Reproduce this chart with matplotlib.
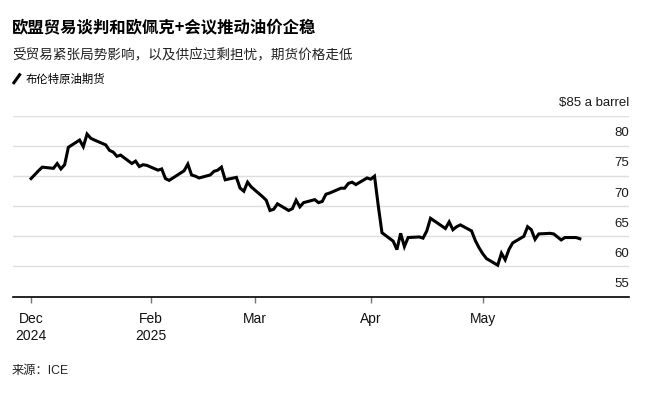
import matplotlib
matplotlib.use("Agg")
import matplotlib.pyplot as plt
from matplotlib.lines import Line2D
import pandas as pd

# Brent crude futures, daily close (USD/barrel)
dates = [
    "2024-12-31",
    "2025-01-02", "2025-01-03", "2025-01-06", "2025-01-07", "2025-01-08", "2025-01-09", "2025-01-10",
    "2025-01-13", "2025-01-14", "2025-01-15", "2025-01-16", "2025-01-17",
    "2025-01-20", "2025-01-21", "2025-01-22", "2025-01-23", "2025-01-24",
    "2025-01-27", "2025-01-28", "2025-01-29", "2025-01-30", "2025-01-31",
    "2025-02-03", "2025-02-04", "2025-02-05", "2025-02-06", "2025-02-07",
    "2025-02-10", "2025-02-11", "2025-02-12", "2025-02-13", "2025-02-14",
    "2025-02-17", "2025-02-18", "2025-02-19", "2025-02-20", "2025-02-21",
    "2025-02-24", "2025-02-25", "2025-02-26", "2025-02-27", "2025-02-28",
    "2025-03-03", "2025-03-04", "2025-03-05", "2025-03-06", "2025-03-07",
    "2025-03-10", "2025-03-11", "2025-03-12", "2025-03-13", "2025-03-14",
    "2025-03-17", "2025-03-18", "2025-03-19", "2025-03-20", "2025-03-21",
    "2025-03-24", "2025-03-25", "2025-03-26", "2025-03-27", "2025-03-28",
    "2025-03-31", "2025-04-01", "2025-04-02", "2025-04-03", "2025-04-04",
    "2025-04-07", "2025-04-08", "2025-04-09", "2025-04-10", "2025-04-11",
    "2025-04-14", "2025-04-15", "2025-04-16", "2025-04-17",
    "2025-04-21", "2025-04-22", "2025-04-23", "2025-04-24", "2025-04-25",
    "2025-04-28", "2025-04-29", "2025-04-30", "2025-05-01", "2025-05-02",
    "2025-05-05", "2025-05-06", "2025-05-07", "2025-05-08", "2025-05-09",
    "2025-05-12", "2025-05-13", "2025-05-14", "2025-05-15", "2025-05-16",
    "2025-05-19", "2025-05-20", "2025-05-21", "2025-05-22", "2025-05-23",
    "2025-05-26", "2025-05-27",
]
prices = [
    74.6,
    75.9, 76.5, 76.3, 77.1, 76.2, 76.9, 79.8,
    81.0, 79.9, 82.0, 81.3, 81.0,
    80.2, 79.3, 79.0, 78.3, 78.5,
    77.1, 77.5, 76.6, 76.9, 76.8,
    76.0, 76.2, 74.6, 74.3, 74.7,
    75.9, 77.0, 75.2, 75.0, 74.7,
    75.2, 75.8, 76.0, 76.5, 74.4,
    74.8, 73.0, 72.5, 74.0, 73.2,
    71.6, 71.0, 69.3, 69.5, 70.4,
    69.3, 69.6, 71.0, 69.9, 70.6,
    71.1, 70.6, 70.8, 72.0, 72.2,
    73.0, 73.0, 73.8, 74.0, 73.6,
    74.7, 74.5, 75.0, 70.1, 65.6,
    64.2, 62.8, 65.5, 63.3, 64.8,
    64.9, 64.7, 65.9, 68.0,
    66.3, 67.4, 66.1, 66.6, 66.9,
    65.9, 64.3, 63.1, 62.1, 61.3,
    60.2, 62.2, 61.1, 62.8, 63.9,
    65.0, 66.6, 66.1, 64.5, 65.4,
    65.5, 65.4, 64.9, 64.4, 64.8,
    64.8, 64.6,
]

y_ticks = [55, 60, 65, 70, 75, 80, 85]
y_labels = ["55", "60", "65", "70", "75", "80", "$85 a barrel"]
x_ticks = ["2024-12-31", "2025-02-01", "2025-03-01", "2025-04-01", "2025-05-01"]
x_labels = ["Dec\n2024", "Feb\n2025", "Mar", "Apr", "May"]

title = "欧盟贸易谈判和欧佩克+会议推动油价企稳"
subtitle = "受贸易紧张局势影响，以及供应过剩担忧，期货价格走低"
series_name = "布伦特原油期货"
source = "来源：ICE"

CJK = ["Noto Sans CJK SC", "DejaVu Sans"]
LATIN = ["Liberation Sans", "DejaVu Sans"]

W, H = 645, 393
fig = plt.figure(figsize=(W / 100, H / 100), dpi=100)
fig.patch.set_facecolor("white")


def fx(px):
    return px / W


def fy(py):
    return 1 - py / H


ax = fig.add_axes([fx(13), fy(296.5), fx(629) - fx(13), fy(116) - fy(296.5)])

x = pd.to_datetime(dates)
ax.plot(x, prices, color="black", lw=2.2, solid_joinstyle="miter", zorder=3)

ax.set_xlim(pd.Timestamp("2024-12-26 04:00"), pd.Timestamp("2025-06-09 04:00"))
ax.set_ylim(55, 85)

# gridlines
for v in y_ticks[1:]:
    ax.axhline(v, color="#dedede", lw=1.0, zorder=1)

# y labels sit above their gridlines on the right
ax.set_yticks([])
for v, lab in zip(y_ticks, y_labels):
    ax.annotate(lab, xy=(1, v), xycoords=ax.get_yaxis_transform(),
                xytext=(0, 7), textcoords="offset points",
                ha="right", va="baseline", fontsize=9.5, color="#1a1a1a",
                family=LATIN)

ax.set_xticks(pd.to_datetime(x_ticks))
ax.set_xticklabels(x_labels, family=LATIN, fontsize=10, color="#111111",
                   linespacing=1.25)
ax.tick_params(axis="x", length=4, width=1, color="#777777", pad=7)

for s in ["top", "right", "left"]:
    ax.spines[s].set_visible(False)
ax.spines["bottom"].set_color("black")
ax.spines["bottom"].set_linewidth(1.2)

# header texts
fig.text(fx(12), fy(28), title, family=CJK, fontsize=11.8, fontweight="bold",
         va="center", ha="left", color="black")
fig.text(fx(12), fy(55), subtitle, family=CJK, fontsize=9.8,
         va="center", ha="left", color="#222222")
fig.add_artist(Line2D([fx(13), fx(20.5)], [fy(84), fy(73.5)],
                      color="black", lw=2.2, solid_capstyle="butt"))
fig.text(fx(26), fy(79), series_name, family=CJK, fontsize=8.2,
         va="center", ha="left", color="black")
fig.text(fx(12), fy(371), source, family=["Liberation Sans", "Noto Sans CJK SC"],
         fontsize=8.8, va="center", ha="left", color="#222222")

fig.savefig("out.png", dpi=100, facecolor="white")
